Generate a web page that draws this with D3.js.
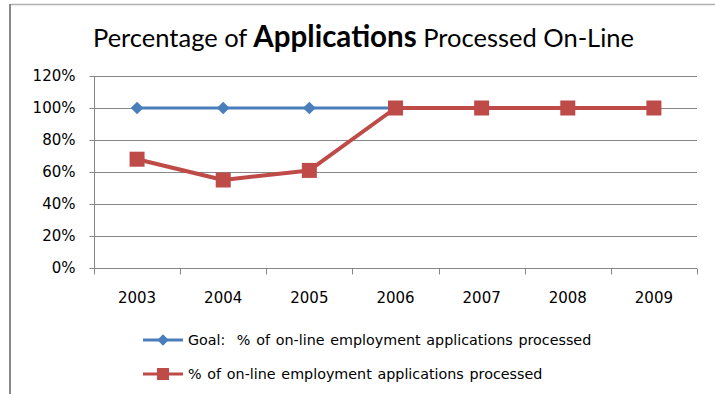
<!DOCTYPE html>
<html>
<head>
<meta charset="utf-8">
<script src="https://cdn.jsdelivr.net/npm/d3@7"></script>
<style>
  html, body { margin: 0; padding: 0; background: #fff; }
  svg { display: block; }
</style>
</head>
<body>
<svg id="chart" width="715" height="394"></svg>
<script>
// Years on the category axis
const years = ["2003", "2004", "2005", "2006", "2007", "2008", "2009"];
// Goal: share of on-line employment applications processed (%)
const goalValues = [100, 100, 100, 100, 100, 100, 100];
// Actual share of on-line employment applications processed (%)
const actualValues = [68, 55, 61, 100, 100, 100, 100];
// Value axis ticks (%)
const yTicks = [0, 20, 40, 60, 80, 100, 120];

const seriesNames = [
  "Goal:  % of on-line employment applications processed",
  "% of on-line employment applications processed"
];

const svg = d3.select("#chart");
const W = 715, H = 394;
const plot = { left: 94, right: 697, top: 76, bottom: 268 };

// outer frame (left and top edges only)
svg.append("line").attr("x1", 10).attr("x2", W).attr("y1", 4.5).attr("y2", 4.5)
  .attr("stroke", "#b0b0b0").attr("stroke-width", 1.5);
svg.append("line").attr("x1", 10).attr("x2", 10).attr("y1", 4).attr("y2", H)
  .attr("stroke", "#888").attr("stroke-width", 2);

// title with emphasised word
const title = svg.append("text").attr("x", 93).attr("y", 47)
  .attr("font-family", "Lato, 'Open Sans', sans-serif").attr("fill", "#000");
title.append("tspan").attr("font-size", 25.5).text("Percentage of ");
title.append("tspan").attr("font-size", 29.5).attr("font-weight", "bold").text("Applications");
title.append("tspan").attr("font-size", 25.5).text(" Processed On-Line");

const x = d3.scaleBand().domain(years).range([plot.left, plot.right]);
const y = d3.scaleLinear().domain([0, 120]).range([plot.bottom, plot.top]);

// horizontal gridlines
svg.append("g").selectAll("line").data(yTicks.filter(d => d > 0)).join("line")
  .attr("x1", plot.left).attr("x2", plot.right)
  .attr("y1", d => Math.round(y(d)) + 0.5).attr("y2", d => Math.round(y(d)) + 0.5)
  .attr("stroke", "#868686").attr("stroke-width", 1);

// y axis
const yAxis = d3.axisLeft(y).tickValues(yTicks).tickFormat(d => d + "%").tickSize(5).tickPadding(8);
const gy = svg.append("g").attr("transform", `translate(${plot.left + 0.5},0)`).call(yAxis);
gy.select(".domain").attr("stroke", "#868686").attr("d", `M0,${plot.top}V${plot.bottom}`);
gy.selectAll(".tick line").attr("stroke", "#868686");
gy.selectAll(".tick text").attr("font-family", "'DejaVu Sans', sans-serif")
  .attr("font-size", 15).attr("fill", "#000").attr("x", -19);

// x axis with ticks at category boundaries
const gx = svg.append("g").attr("transform", `translate(0,${plot.bottom + 0.5})`);
gx.append("line").attr("x1", plot.left).attr("x2", plot.right).attr("stroke", "#868686");
const bounds = years.map(d => x(d)).concat([plot.right]);
gx.selectAll("line.tk").data(bounds).join("line").attr("class", "tk")
  .attr("x1", d => Math.round(d) + 0.5).attr("x2", d => Math.round(d) + 0.5)
  .attr("y1", 0).attr("y2", 6).attr("stroke", "#868686");
gx.selectAll("text").data(years).join("text")
  .attr("x", d => x(d) + x.bandwidth() / 2).attr("y", 34)
  .attr("text-anchor", "middle").attr("font-family", "'DejaVu Sans', sans-serif")
  .attr("font-size", 15).attr("fill", "#000").text(d => d);

const cx = d => x(d) + x.bandwidth() / 2;
const blue = "#4a7ebb", red = "#be4b48";

// Goal series
const goal = years.map((d, i) => ({ k: d, v: goalValues[i] }));
svg.append("path").datum(goal)
  .attr("d", d3.line().x(d => cx(d.k)).y(d => y(d.v)))
  .attr("fill", "none").attr("stroke", blue).attr("stroke-width", 3);
svg.append("g").selectAll("path").data(goal).join("path")
  .attr("transform", d => `translate(${cx(d.k)},${y(d.v)}) rotate(45)`)
  .attr("d", "M-4.5,-4.5H4.5V4.5H-4.5Z").attr("fill", blue);

// Actual series
const actual = years.map((d, i) => ({ k: d, v: actualValues[i] }));
svg.append("path").datum(actual)
  .attr("d", d3.line().x(d => cx(d.k)).y(d => y(d.v)))
  .attr("fill", "none").attr("stroke", red).attr("stroke-width", 4)
  .attr("stroke-linejoin", "round");
svg.append("g").selectAll("rect").data(actual).join("rect")
  .attr("x", d => cx(d.k) - 7.5).attr("y", d => y(d.v) - 7.5)
  .attr("width", 15).attr("height", 15).attr("fill", red);

// legend
const legend = svg.append("g");
const ly = [340, 374];
seriesNames.forEach((name, i) => {
  const g = legend.append("g").attr("transform", `translate(0,${ly[i]})`);
  g.append("line").attr("x1", 143).attr("x2", 183).attr("y1", 0).attr("y2", 0)
    .attr("stroke", i === 0 ? blue : red).attr("stroke-width", 3);
  if (i === 0) {
    g.append("path").attr("transform", "translate(163,0) rotate(45)")
      .attr("d", "M-4,-4H4V4H-4Z").attr("fill", blue);
  } else {
    g.append("rect").attr("x", 157).attr("y", -6).attr("width", 12).attr("height", 12).attr("fill", red);
  }
  g.append("text").attr("x", 188).attr("y", 5)
    .attr("font-family", "'DejaVu Sans', sans-serif").attr("font-size", 14.3)
    .attr("word-spacing", 1.2).style("white-space", "pre")
    .attr("fill", "#000").text(name);
});
</script>
</body>
</html>
